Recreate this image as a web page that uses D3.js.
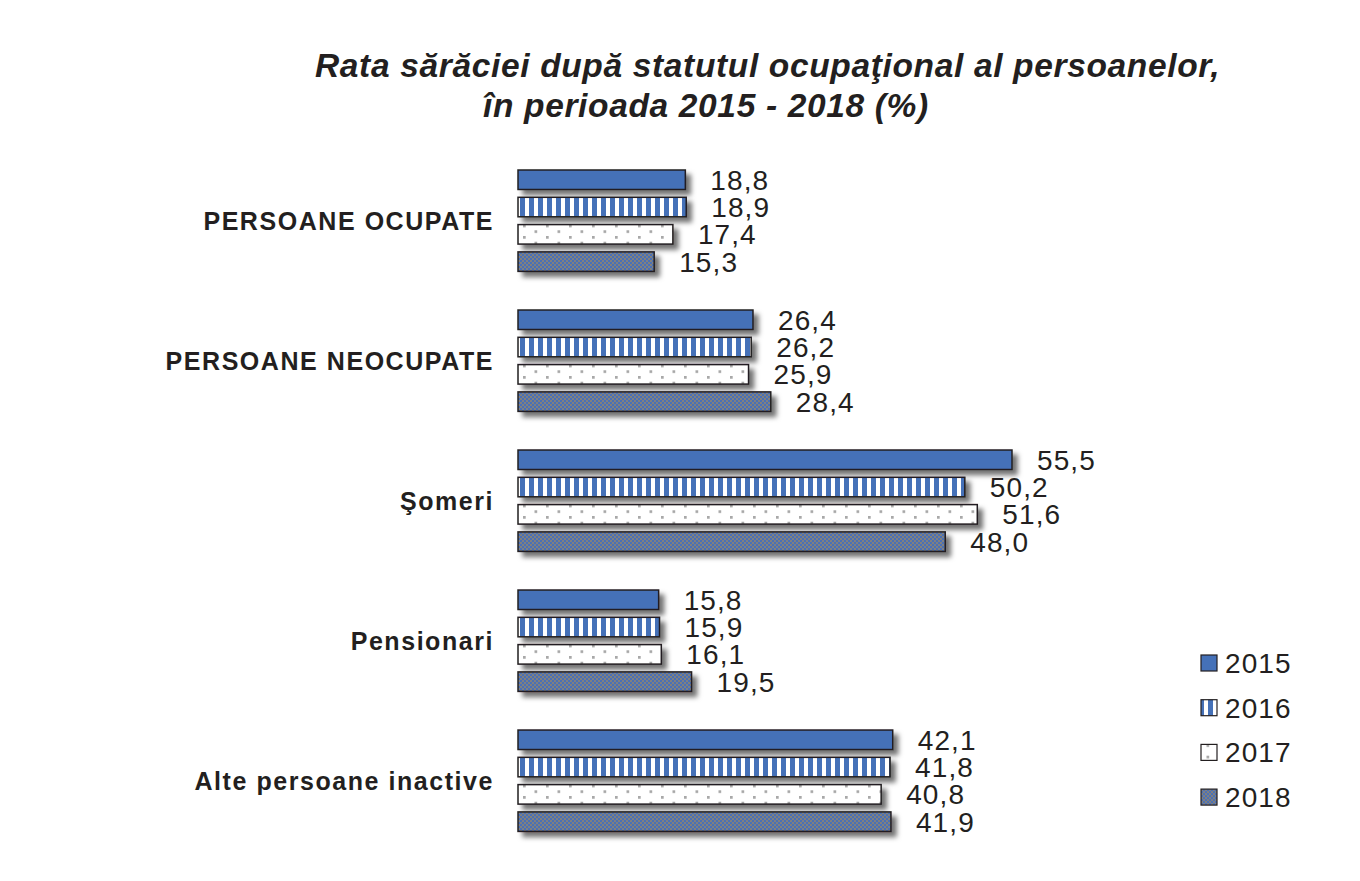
<!DOCTYPE html>
<html>
<head>
<meta charset="utf-8">
<script src="https://cdn.jsdelivr.net/npm/d3@7"></script>
<style>
  body { margin: 0; background: #fff; }
  text { font-family: "Liberation Sans", Arial, sans-serif; fill: #231f20; }
</style>
</head>
<body>
<div id="chart"></div>
<script>
// chart data
const categories = ['PERSOANE OCUPATE', 'PERSOANE NEOCUPATE', 'Şomeri', 'Pensionari', 'Alte persoane inactive'];
const years = ['2015', '2016', '2017', '2018'];
const values2015 = [18.8, 26.4, 55.5, 15.8, 42.1];
const values2016 = [18.9, 26.2, 50.2, 15.9, 41.8];
const values2017 = [17.4, 25.9, 51.6, 16.1, 40.8];
const values2018 = [15.3, 28.4, 48.0, 19.5, 41.9];
const series = [values2015, values2016, values2017, values2018];

const width = 1360, height = 881;
const svg = d3.select('#chart').append('svg')
    .attr('width', width)
    .attr('height', height);

// scales
const x = d3.scaleLinear().domain([0, 55.5]).range([518, 1012]);
const y0 = d3.scaleBand().domain(categories).range([170, 831.4]).paddingInner(0.276).paddingOuter(0);
const y1 = d3.scaleBand().domain(years).range([0, y0.bandwidth()]).paddingInner(0.286);

const defs = svg.append('defs');

// drop shadow like the original office chart
const shadow = defs.append('filter').attr('id', 'shadow')
    .attr('x', '-5%').attr('y', '-30%').attr('width', '115%').attr('height', '190%');
shadow.append('feDropShadow')
    .attr('dx', 5).attr('dy', 5).attr('stdDeviation', 2.8)
    .attr('flood-color', '#000').attr('flood-opacity', 0.55);

const blue = '#4571b8';

// 2016: vertical stripes
const pStripe = defs.append('pattern').attr('id', 'p2016')
    .attr('patternUnits', 'userSpaceOnUse').attr('width', 9).attr('height', 10)
    .attr('x', x(0) + 2);
pStripe.append('rect').attr('width', 9).attr('height', 10).attr('fill', '#fff');
pStripe.append('rect').attr('width', 5).attr('height', 10).attr('fill', blue);

// 2017: sparse grey dots in offset rows
const pDots = defs.append('pattern').attr('id', 'p2017')
    .attr('patternUnits', 'userSpaceOnUse').attr('width', 23).attr('height', 11.4)
    .attr('x', x(0) + 2).attr('y', y1('2017'));
pDots.append('rect').attr('width', 23).attr('height', 11.4).attr('fill', '#fff');
pDots.append('rect').attr('x', 3).attr('y', 0).attr('width', 2.7).attr('height', 2.7).attr('fill', '#a8a8a8');
pDots.append('rect').attr('x', 14.5).attr('y', 5.7).attr('width', 2.7).attr('height', 2.7).attr('fill', '#a8a8a8');

// 2018: fine checkerboard of blue and grey
const pCheck = defs.append('pattern').attr('id', 'p2018')
    .attr('patternUnits', 'userSpaceOnUse').attr('width', 4).attr('height', 4);
pCheck.append('rect').attr('width', 4).attr('height', 4).attr('fill', '#4a70b6');
pCheck.append('rect').attr('width', 2).attr('height', 2).attr('fill', '#808080');
pCheck.append('rect').attr('x', 2).attr('y', 2).attr('width', 2).attr('height', 2).attr('fill', '#808080');

const fills = [blue, 'url(#p2016)', 'url(#p2017)', 'url(#p2018)'];

// title
svg.append('text')
    .attr('x', 315).attr('y', 77)
    .attr('font-size', 33.5).attr('font-weight', 'bold').attr('font-style', 'italic')
    .attr('letter-spacing', 0.65)
    .text('Rata sărăciei după statutul ocupaţional al persoanelor,');
svg.append('text')
    .attr('x', 483).attr('y', 117)
    .attr('font-size', 33.5).attr('font-weight', 'bold').attr('font-style', 'italic')
    .attr('letter-spacing', 0.65)
    .text('în perioada 2015 - 2018 (%)');

const groups = svg.selectAll('.group')
    .data(categories)
    .enter()
    .append('g')
    .attr('class', 'group')
    .attr('transform', d => 'translate(0,' + y0(d) + ')');

groups.append('text')
    .attr('x', 494)
    .attr('y', y0.bandwidth() / 2 + 9)
    .attr('text-anchor', 'end')
    .attr('font-size', 25)
    .attr('font-weight', 'bold')
    .attr('letter-spacing', 1.55)
    .text(d => d);

years.forEach((yr, si) => {
    groups.append('rect')
        .attr('x', x(0))
        .attr('y', y1(yr))
        .attr('width', (d, i) => x(series[si][i]) - x(0))
        .attr('height', y1.bandwidth())
        .attr('fill', fills[si])
        .attr('stroke', '#231f20')
        .attr('stroke-width', 1.5)
        .attr('filter', 'url(#shadow)');

    groups.append('text')
        .attr('x', (d, i) => x(series[si][i]) + 25)
        .attr('y', y1(yr) + y1.bandwidth() / 2 + 10)
        .attr('font-size', 28)
        .attr('letter-spacing', 1.1)
        .text((d, i) => d3.format('.1f')(series[si][i]).replace('.', ','));
});

// legend
const legend = svg.selectAll('.legend')
    .data(years)
    .enter()
    .append('g')
    .attr('class', 'legend')
    .attr('transform', (d, i) => 'translate(1201,' + (663 + i * 44.7) + ')');

legend.append('rect')
    .attr('x', 0).attr('y', -8)
    .attr('width', 16).attr('height', 16)
    .attr('fill', (d, i) => fills[i])
    .attr('stroke', '#231f20')
    .attr('stroke-width', 1.2);

legend.append('text')
    .attr('x', 24).attr('y', 10)
    .attr('font-size', 28)
    .attr('letter-spacing', 1.1)
    .text(d => d);
</script>
</body>
</html>
